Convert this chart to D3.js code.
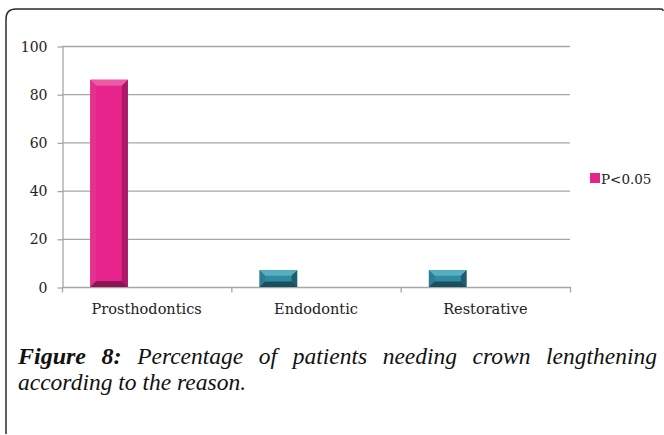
<!DOCTYPE html>
<html>
<head>
<meta charset="utf-8">
<script src="https://cdn.jsdelivr.net/npm/d3@7"></script>
<style>
  html, body { margin: 0; padding: 0; background: #fff; }
  svg { display: block; }
</style>
</head>
<body>
<svg id="chart" width="664" height="435"></svg>
<script>
// Reasons for crown lengthening and percentage of patients
const categories = ["Prosthodontics", "Endodontic", "Restorative"];
const values = [86, 7, 7];
const seriesName = "P<0.05";
const yTicks = [0, 20, 40, 60, 80, 100];
const captionLabel = "Figure 8:";
const captionLine1 = "Percentage of patients needing crown lengthening";
const captionLine2 = "according to the reason.";

// bar palettes: [face, top, left, right, bottom]
const pinkShades = ["#e6248c", "#ee5aa6", "#e4308f", "#ab1a68", "#8c1655"];
const tealShades = ["#2f8ba3", "#57aec2", "#2a7d93", "#1f5c6d", "#1c4f5e"];
const barShades = [pinkShades, tealShades, tealShades];

const svg = d3.select("#chart");

// outer frame (open on the right and bottom)
const r = 10;
svg.append("path")
  .attr("d", `M6,434 L6,${9 + r} Q6,9 ${6 + r},9 L661,9 Q663,9 663,11`)
  .attr("fill", "none")
  .attr("stroke", "#2b2b2b")
  .attr("stroke-width", 1.5);

const plotLeft = 62, plotRight = 570, plotTop = 46, plotBottom = 287;

const y = d3.scaleLinear().domain([0, 100]).range([plotBottom, plotTop]);
const x = d3.scaleBand().domain(categories).range([plotLeft, plotRight]).padding(0);
// three series slots per category, the first one carries the data
const slot = d3.scaleBand().domain([0, 1, 2]).range([0, x.bandwidth()])
  .paddingInner(0).paddingOuter(0.75);

const labelFont = "DejaVu Serif, serif";

// gridlines
svg.append("g").selectAll("line")
  .data(yTicks.filter(t => t > 0))
  .join("line")
  .attr("x1", plotLeft).attr("x2", plotRight)
  .attr("y1", d => y(d) + 0.5).attr("y2", d => y(d) + 0.5)
  .attr("stroke", "#a6a6a6").attr("stroke-width", 1.3);

// y axis
const yAxis = svg.append("g")
  .attr("transform", `translate(${plotLeft + 0.5},0)`)
  .call(d3.axisLeft(y).tickValues(yTicks).tickSize(5).tickPadding(10).tickSizeOuter(0));
yAxis.select(".domain").attr("stroke", "#a6a6a6").attr("stroke-width", 1.3);
yAxis.selectAll(".tick line").attr("stroke", "#a6a6a6").attr("stroke-width", 1.3)
  .attr("transform", "translate(0,0.5)");
yAxis.selectAll(".tick text")
  .attr("fill", "#222").attr("font-family", labelFont).attr("font-size", 14)
  .attr("dy", "0.36em");

// x axis
const xAxis = svg.append("g")
  .attr("transform", `translate(0,${plotBottom + 0.5})`);
xAxis.append("line")
  .attr("x1", plotLeft).attr("x2", plotRight + 1)
  .attr("stroke", "#a6a6a6").attr("stroke-width", 1.3);
xAxis.selectAll("line.tk")
  .data(categories.map(c => x(c)).concat([plotRight]))
  .join("line").attr("class", "tk")
  .attr("x1", d => d + 0.5).attr("x2", d => d + 0.5)
  .attr("y1", 0).attr("y2", 5)
  .attr("stroke", "#a6a6a6").attr("stroke-width", 1.3);
xAxis.selectAll("text")
  .data(categories)
  .join("text")
  .attr("x", d => x(d) + x.bandwidth() / 2)
  .attr("y", 26)
  .attr("text-anchor", "middle")
  .attr("fill", "#222").attr("font-family", labelFont).attr("font-size", 14.5)
  .text(d => d);

// bevelled bars
const bars = svg.append("g");
categories.forEach((c, i) => {
  const x0 = x(c) + slot(0), w = slot.bandwidth();
  const y0 = y(values[i]), y1 = y(0);
  const h = y1 - y0;
  const b = Math.min(6, h / 3);
  const s = barShades[i];
  const g = bars.append("g");
  g.append("rect").attr("x", x0).attr("y", y0).attr("width", w).attr("height", h).attr("fill", s[0]);
  const poly = (pts, fill) => g.append("polygon")
    .attr("points", pts.map(p => p.join(",")).join(" ")).attr("fill", fill);
  poly([[x0, y0], [x0 + w, y0], [x0 + w - b, y0 + b], [x0 + b, y0 + b]], s[1]);
  poly([[x0, y0], [x0 + b, y0 + b], [x0 + b, y1 - b], [x0, y1]], s[2]);
  poly([[x0 + w, y0], [x0 + w, y1], [x0 + w - b, y1 - b], [x0 + w - b, y0 + b]], s[3]);
  poly([[x0, y1], [x0 + b, y1 - b], [x0 + w - b, y1 - b], [x0 + w, y1]], s[4]);
});

// legend
const lg = svg.append("g").attr("transform", "translate(590,173)");
lg.append("rect").attr("width", 10).attr("height", 10).attr("fill", pinkShades[0]);
lg.append("text").attr("x", 11).attr("y", 10.5)
  .attr("fill", "#222").attr("font-family", labelFont).attr("font-size", 13.5)
  .text(seriesName);

// caption, first line justified across the frame
const capLeft = 18, capRight = 657;
const cap = svg.append("g").attr("font-family", "Liberation Serif, serif").attr("font-size", 23.5)
  .attr("font-style", "italic").attr("fill", "#111");
const words = captionLabel.split(" ").concat(captionLine1.split(" "));
const nodes = words.map((wd, i) => cap.append("text")
  .attr("y", 364)
  .attr("font-weight", i < 2 ? "bold" : "normal")
  .attr("font-size", i < 2 ? 24 : null)
  .text(wd));
const widths = nodes.map(n => n.node().getComputedTextLength());
const gap = (capRight - capLeft - d3.sum(widths)) / (words.length - 1);
let cx = capLeft;
nodes.forEach((n, i) => { n.attr("x", cx); cx += widths[i] + gap; });
cap.append("text").attr("x", capLeft).attr("y", 390).text(captionLine2);
</script>
</body>
</html>
